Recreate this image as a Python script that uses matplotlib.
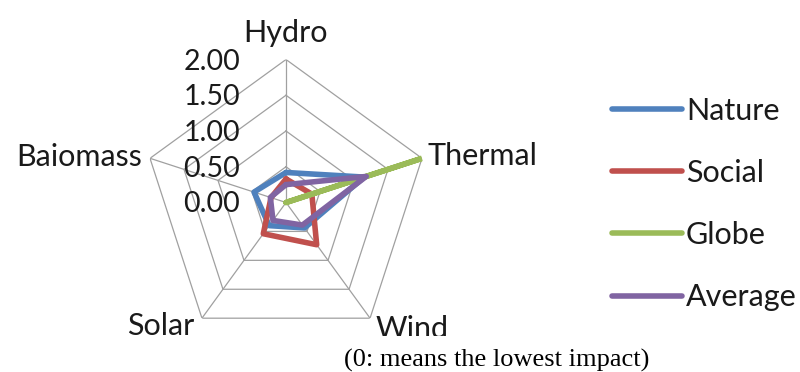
import numpy as np
import matplotlib
matplotlib.use("Agg")
import matplotlib.pyplot as plt
from matplotlib.lines import Line2D
from matplotlib.patches import Rectangle
from matplotlib.transforms import offset_copy

plt.rcParams['font.family'] = ['Lato', 'DejaVu Sans']

# impact scores per energy source (0 = lowest impact)
sources = ['Hydro', 'Thermal', 'Wind', 'Solar', 'Baiomass']
nature = [0.42, 1.15, 0.44, 0.40, 0.47]
social = [0.33, 0.38, 0.73, 0.54, 0.22]
globe = [0.00, 2.00, 0.00, 0.00, 0.00]
average = [0.25, 1.18, 0.39, 0.31, 0.23]
levels = [0.0, 0.5, 1.0, 1.5, 2.0]

series = [('Nature', nature, '#4F81BD'),
          ('Social', social, '#C0504D'),
          ('Globe', globe, '#9BBB59'),
          ('Average', average, '#8064A2')]

W, H = 800, 372
fig = plt.figure(figsize=(W / 100, H / 100), dpi=100)

cx, cy, R = 286, 202.5, 143
ax = fig.add_axes([(cx - R) / W, (H - cy - R) / H, 2 * R / W, 2 * R / H],
                  projection='polar')
ax.set_theta_offset(np.pi / 2)
ax.set_theta_direction(-1)
ax.set_ylim(0, 2)
ax.axis('off')

theta = np.linspace(0, 2 * np.pi, len(sources), endpoint=False)
closed = np.append(theta, theta[0])

# pentagon grid and spokes
grid_kw = dict(color='#A0A0A0', lw=0.9, zorder=1)
for lv in levels[1:]:
    ax.plot(closed, [lv] * len(closed), **grid_kw)
for t in theta:
    ax.plot([t, t], [0, levels[-1]], **grid_kw)

lw = 4.0
for name, vals, col in series:
    ax.plot(closed, vals + vals[:1], color=col, lw=lw,
            solid_joinstyle='round', solid_capstyle='round', zorder=3)

txt = '#1a1a1a'
fs = 22
tick_tr = offset_copy(ax.transData, fig=fig, x=-46, y=-2, units='dots')
for lv in levels:
    ax.text(0, lv, f'{lv:.2f}', transform=tick_tr, ha='right', va='center',
            fontsize=20.5, color=txt, zorder=4)


def ftext(x, y, s, **kw):
    return fig.text(x / W, 1 - y / H, s, **kw)


ftext(285, 42, 'Hydro', ha='center', va='baseline', fontsize=fs, color=txt)
ftext(428, 165, 'Thermal', ha='left', va='baseline', fontsize=fs, color=txt)
ftext(376, 338, 'Wind', ha='left', va='baseline', fontsize=fs, color=txt, zorder=3)
ftext(194, 335, 'Solar', ha='right', va='baseline', fontsize=fs, color=txt)
ftext(142, 166, 'Baiomass', ha='right', va='baseline', fontsize=fs, color=txt)

# white strip for the note under the chart
fig.add_artist(Rectangle((340 / W, 0), 330 / W, (H - 336) / H,
                         transform=fig.transFigure, facecolor='white',
                         edgecolor='none', zorder=5))
ftext(497, 367, '(0: means the lowest impact)', ha='center', va='baseline',
      fontsize=19, family='Liberation Serif', color='black', zorder=6)

handles = [Line2D([], [], color=c, lw=lw, solid_capstyle='round') for _, _, c in series]
fig.legend(handles, [n for n, _, _ in series], loc='center left',
           bbox_to_anchor=(612 / W, 1 - 204 / H), frameon=False,
           fontsize=fs, borderpad=0, borderaxespad=0, handlelength=2.3,
           handletextpad=0.12, labelspacing=1.12, labelcolor=txt)

fig.savefig('out.png', dpi=100)
